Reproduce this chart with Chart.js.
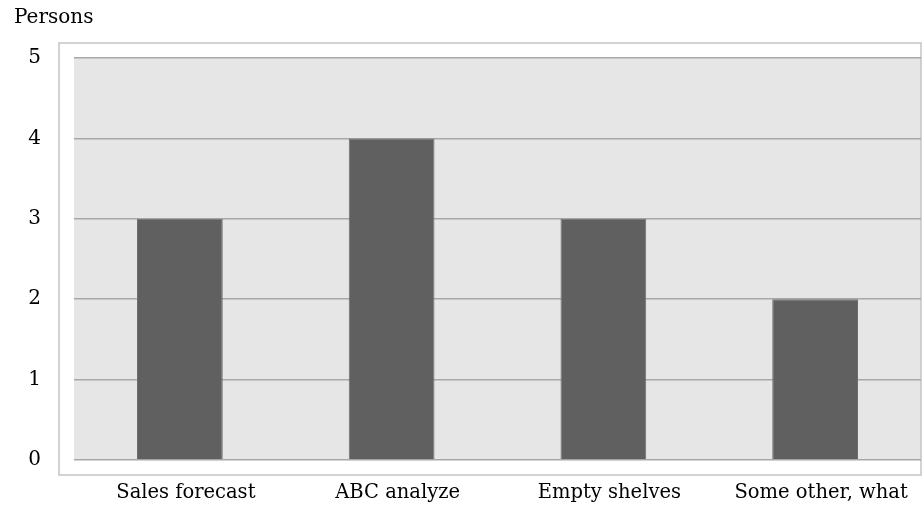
<!DOCTYPE html>
<html lang="en">
<head>
    <meta charset="UTF-8">
    <title>Persons chart</title>
    <script src="https://cdn.jsdelivr.net/npm/chart.js"></script>
    <style>
        body { margin: 0; background: #fff; }
        #wrap { width: 924px; height: 510px; }
    </style>
</head>
<body>
    <div id="wrap"><canvas id="chart" width="924" height="510"></canvas></div>

    <script>
        // data
        const categories = ['Sales forecast', 'ABC analyze', 'Empty shelves', 'Some other, what'];
        const persons = [3, 4, 3, 2];
        const yTicks = [0, 1, 2, 3, 4, 5];

        const fontFamily = '"DejaVu Serif", "Liberation Serif", serif';

        // gray plot background + outer frame
        const framePlugin = {
            id: 'frame',
            beforeDraw(chart) {
                const { ctx, chartArea: a } = chart;
                ctx.save();
                ctx.fillStyle = '#e6e6e6';
                ctx.fillRect(a.left, a.top, a.right - a.left, a.bottom - a.top);
                ctx.strokeStyle = '#c4c4c4';
                ctx.lineWidth = 1.5;
                ctx.strokeRect(a.left - 15, a.top - 15, a.right - a.left + 15, a.bottom - a.top + 30);
                ctx.restore();
            }
        };

        const ctx = document.getElementById('chart').getContext('2d');
        new Chart(ctx, {
            type: 'bar',
            data: {
                labels: categories,
                datasets: [{
                    label: 'Persons',
                    data: persons,
                    backgroundColor: '#606060',
                    borderColor: '#6e6e6e',
                    borderWidth: 1,
                    barPercentage: 0.405,
                    categoryPercentage: 1
                }]
            },
            options: {
                responsive: false,
                animation: false,
                layout: { padding: { left: 14, right: 3, top: 0, bottom: 0 } },
                plugins: {
                    legend: { display: false },
                    tooltip: { enabled: false },
                    title: {
                        display: true,
                        text: 'Persons',
                        align: 'start',
                        color: '#000',
                        font: { family: fontFamily, size: 20, weight: 'normal' },
                        padding: { top: 6, bottom: 28 }
                    }
                },
                scales: {
                    x: {
                        grid: { display: false },
                        border: { display: false },
                        ticks: {
                            color: '#000',
                            font: { family: fontFamily, size: 19.5 },
                            padding: 13,
                            labelOffset: 6,
                            maxRotation: 0
                        },
                        afterFit(scale) { scale.height = 50; }
                    },
                    y: {
                        min: 0,
                        max: 5,
                        afterBuildTicks(scale) {
                            scale.ticks = yTicks.map(v => ({ value: v }));
                        },
                        grid: {
                            color: '#a8a8a8',
                            lineWidth: 1.5,
                            drawTicks: false
                        },
                        border: { display: false },
                        ticks: {
                            color: '#000',
                            font: { family: fontFamily, size: 20 },
                            padding: 33
                        },
                        afterFit(scale) { scale.width = 60; }
                    }
                }
            },
            plugins: [framePlugin]
        });
    </script>
</body>
</html>
